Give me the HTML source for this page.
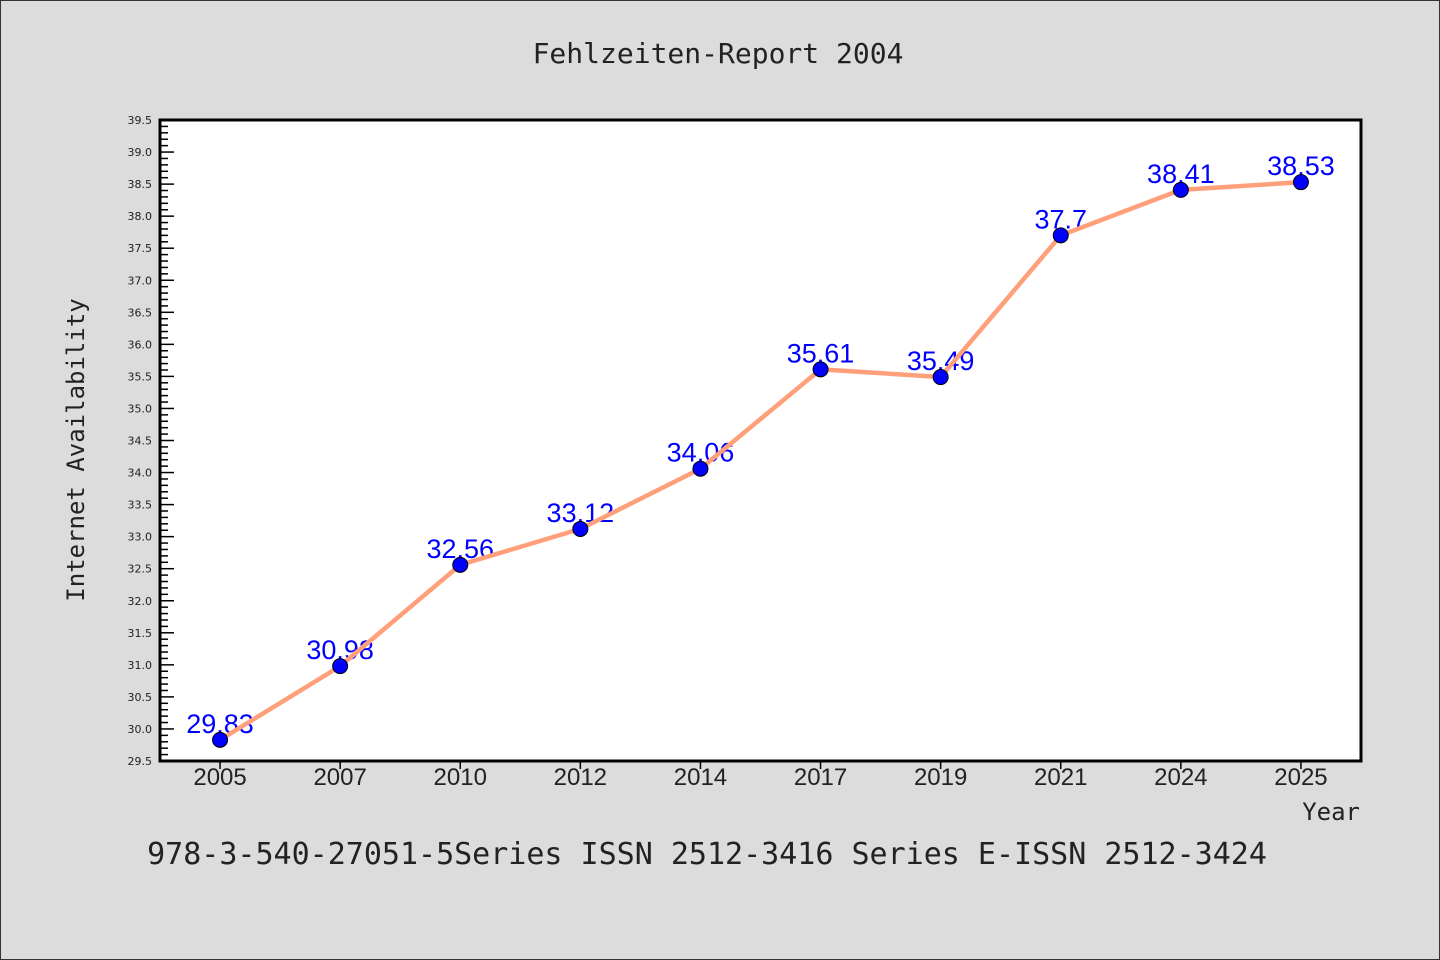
<!DOCTYPE html>
<html><head><meta charset="utf-8"><style>
html,body{margin:0;padding:0;background:#dcdcdc;}
svg{display:block;}
</style></head><body>
<svg width="1440" height="960" viewBox="0 0 1440 960" xmlns="http://www.w3.org/2000/svg">
<rect x="0.5" y="0.5" width="1439" height="959" fill="#dcdcdc" stroke="#333" stroke-width="1"/>
<text x="718" y="63" text-anchor="middle" font-family="DejaVu Sans Mono, Liberation Mono, monospace" font-size="28" fill="#222">Fehlzeiten-Report 2004</text>
<rect x="160" y="120" width="1201" height="641" fill="#fff"/>
<g id="grid"></g>
<g id="series"></g>
<rect x="160" y="120" width="1201" height="641" fill="none" stroke="#000" stroke-width="3"/>
<text transform="translate(84,450) rotate(-90)" text-anchor="middle" font-family="DejaVu Sans Mono, Liberation Mono, monospace" font-size="24" fill="#222">Internet Availability</text>
<text x="1360" y="820" text-anchor="end" font-family="DejaVu Sans Mono, Liberation Mono, monospace" font-size="24" fill="#222">Year</text>
<text x="707" y="864" text-anchor="middle" font-family="DejaVu Sans Mono, Liberation Mono, monospace" font-size="30" fill="#222">978-3-540-27051-5Series ISSN 2512-3416 Series E-ISSN 2512-3424</text>
</svg>
<script>
const categories = ["2005","2007","2010","2012","2014","2017","2019","2021","2024","2025"];
const values = [29.83,30.98,32.56,33.12,34.06,35.61,35.49,37.7,38.41,38.53];
const valueLabels = ["29.83","30.98","32.56","33.12","34.06","35.61","35.49","37.7","38.41","38.53"];
const yMin = 29.5, yMax = 39.5;
const NS = "http://www.w3.org/2000/svg";
const L=160,R=1361,T=120,B=761;
const band=(R-L)/categories.length;
function xs(i){return L+band*(i+0.5);}
function ys(v){return B-(v-yMin)/(yMax-yMin)*(B-T);}
function mk(tag,attrs,parent){const e=document.createElementNS(NS,tag);for(const k in attrs)e.setAttribute(k,attrs[k]);parent.appendChild(e);return e;}
const grid=document.getElementById('grid'), ser=document.getElementById('series');
const nMinor=Math.round((yMax-yMin)/0.1);
for(let k=0;k<=nMinor;k++){
  const v=yMin+k*0.1, y=ys(v), major=(k%5===0);
  const t=mk('line',{x1:L,x2:L+(major?14:8),y1:y,y2:y,stroke:'#000','stroke-width':1.5},grid);
  
  
  if(major){
    const tx=mk('text',{x:L-8,y:y+4,'text-anchor':'end','font-family':'DejaVu Sans, Liberation Sans, sans-serif','font-size':11,fill:'#222'},grid);
    tx.textContent=v.toFixed(1);
    
    
  }
}
categories.forEach((c,i)=>{
  const x=xs(i);
  const t=mk('line',{x1:x,x2:x,y1:B,y2:B+8,stroke:'#000','stroke-width':1.5},grid);
  
  
  const tx=mk('text',{x:x,y:B+24,'text-anchor':'middle','font-family':'Liberation Sans, sans-serif','font-size':24,fill:'#222'},grid);
  tx.textContent=c;
  
  
});
values.forEach((v,i)=>{
  const tx=mk('text',{x:xs(i),y:ys(v)-7,'text-anchor':'middle','font-family':'Liberation Sans, sans-serif','font-size':27,fill:'#0000ff'},ser);
  tx.textContent=valueLabels[i];
  
  
});
const pl=mk('polyline',{points:values.map((v,i)=>xs(i)+','+ys(v)).join(' '),fill:'none',stroke:'#ffa07a','stroke-width':4.5},ser);


values.forEach((v,i)=>{
  const c=mk('circle',{cx:xs(i),cy:ys(v),r:7.5,fill:'#0000ff',stroke:'#000','stroke-width':1},ser);
  
  
});
</script>
</body></html>
